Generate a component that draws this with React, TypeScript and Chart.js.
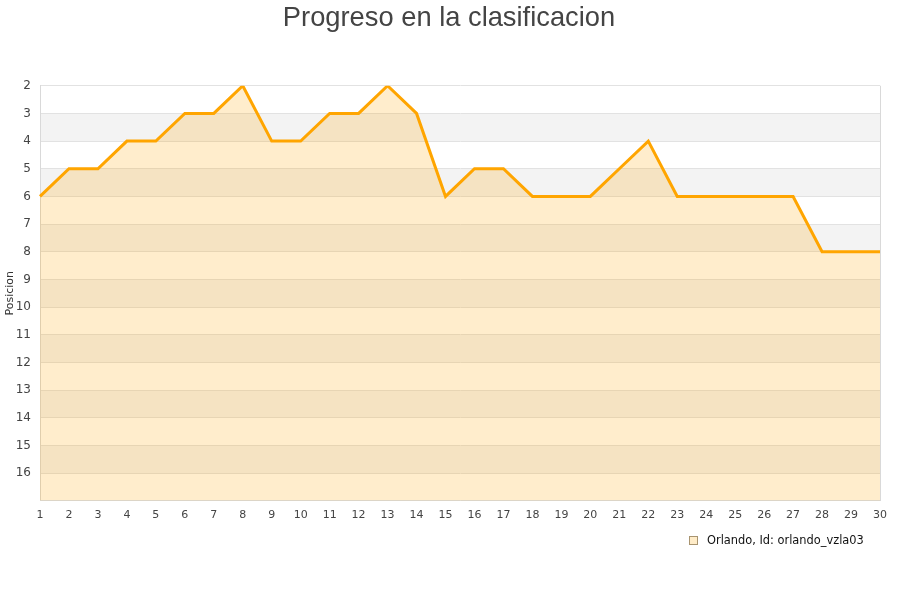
import React, { useEffect, useRef } from "react";
import { Chart, registerables } from "chart.js";

Chart.register(...registerables);

const rounds: string[] = Array.from({ length: 30 }, (_, i) => String(i + 1));
const positions: number[] = [6, 5, 5, 4, 4, 3, 3, 2, 4, 4, 3, 3, 2, 3, 6, 5, 5, 6, 6, 6, 5, 4, 6, 6, 6, 6, 6, 8, 8, 8];
const seriesLabel = "Orlando, Id: orlando_vzla03";
const chartTitle = "Progreso en la clasificacion";
const yTitle = "Posicion";
const yMin = 2;
const yMax = 17;

const bandsPlugin = {
  id: "bands",
  beforeDraw(chart: any) {
    const { ctx, chartArea, scales } = chart;
    const y = scales.y;
    ctx.save();
    ctx.fillStyle = "#f3f3f3";
    for (let v = yMin + 1; v < yMax; v += 2) {
      const a = y.getPixelForValue(v);
      const b = y.getPixelForValue(v + 1);
      ctx.fillRect(chartArea.left, a, chartArea.right - chartArea.left, b - a);
    }
    ctx.restore();
  },
  afterDatasetsDraw(chart: any) {
    const { ctx, chartArea } = chart;
    ctx.save();
    ctx.strokeStyle = "#d9d9d9";
    ctx.lineWidth = 1;
    ctx.beginPath();
    ctx.moveTo(chartArea.right + 0.5, chartArea.top);
    ctx.lineTo(chartArea.right + 0.5, chartArea.bottom);
    ctx.stroke();
    ctx.restore();
  },
};

export default function App() {
  const ref = useRef<HTMLCanvasElement>(null);
  useEffect(() => {
    if (!ref.current) return;
    const chart = new Chart(ref.current, {
      type: "line",
      data: {
        labels: rounds,
        datasets: [
          {
            label: seriesLabel,
            data: positions,
            borderColor: "#ffa500",
            backgroundColor: "rgba(255,165,0,0.2)",
            borderWidth: 3,
            pointRadius: 0,
            tension: 0,
            fill: { value: yMax },
          },
        ],
      },
      options: {
        animation: false,
        responsive: false,
        layout: { padding: { left: 9, right: 11, top: 0, bottom: 70 } },
        plugins: {
          title: {
            display: true,
            text: chartTitle,
            color: "#444",
            font: { family: "Liberation Sans, Arial, sans-serif", size: 27.3, weight: "normal" },
            padding: { top: 2, bottom: 51 },
          },
          legend: { display: false },
          tooltip: { enabled: false },
        },
        scales: {
          x: {
            type: "category",
            offset: false,
            afterFit: (s: any) => {
              s.paddingRight = 20;
            },
            grid: { display: false, drawTicks: false },
            border: { display: true, color: "#d9d9d9" },
            ticks: {
              color: "#444",
              padding: 8,
              maxRotation: 0,
              autoSkip: false,
              font: { family: "DejaVu Sans, sans-serif", size: 11 },
            },
          },
          y: {
            reverse: true,
            min: yMin,
            max: yMax,
            afterFit: (s: any) => {
              s.width = 31;
            },
            grid: { color: "#e2e2e2", drawTicks: false },
            border: { display: true, color: "#d9d9d9" },
            title: {
              display: true,
              text: yTitle,
              color: "#333",
              padding: { top: -5, bottom: 0 },
              font: { family: "DejaVu Sans, sans-serif", size: 11 },
            },
            ticks: {
              stepSize: 1,
              color: "#444",
              padding: 9,
              font: { family: "DejaVu Sans, sans-serif", size: 12 },
              callback: (v: any) => (Number(v) >= yMax ? "" : String(v)),
            },
          },
        },
      },
      plugins: [bandsPlugin],
    });
    return () => chart.destroy();
  }, []);
  return (
    <div style={{ position: "fixed", left: 0, top: 0, width: 900, height: 600, background: "#fff" }}>
      <canvas ref={ref} width={900} height={600} style={{ width: 900, height: 600, display: "block" }} />
      <div
        style={{
          position: "absolute",
          left: 689,
          top: 531,
          height: 18,
          display: "flex",
          alignItems: "center",
          fontFamily: "DejaVu Sans, sans-serif",
          fontSize: 11.4,
          color: "#111",
          whiteSpace: "nowrap",
        }}
      >
        <span
          style={{
            display: "inline-block",
            width: 7,
            height: 7,
            background: "#ffecc8",
            border: "1px solid #a89470",
            marginRight: 9,
          }}
        />
        <span>{seriesLabel}</span>
      </div>
    </div>
  );
}
